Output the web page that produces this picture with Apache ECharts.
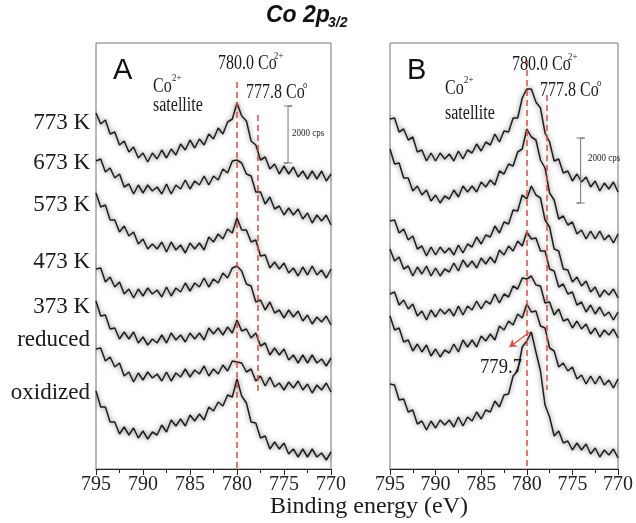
<!DOCTYPE html>
<html><head><meta charset="utf-8">
<script src="https://cdn.jsdelivr.net/npm/echarts@6/dist/echarts.min.js"></script>
<style>html,body{margin:0;padding:0;background:#fff}#c{width:636px;height:523px}</style>
</head><body><div id="c"></div>
<script>
// Binding energy grid (eV)
const energies = [795,794.5,794,793.5,793,792.5,792,791.5,791,790.5,790,789.5,789,788.5,788,787.5,787,786.5,786,785.5,785,784.5,784,783.5,783,782.5,782,781.5,781,780.5,780,779.5,779,778.5,778,777.5,777,776.5,776,775.5,775,774.5,774,773.5,773,772.5,772,771.5,771,770.5,770];
const sampleLabels = ['773 K','673 K','573 K','473 K','373 K','reduced','oxidized'];
const xTicks = [795,790,785,780,775,770];

// Panel A: stacked intensities (a.u., offsets included)
const A_773 = [356,345,349,335,337,324,328,317,322,311,316,307,316,310,319,311,320,314,325,319,329,321,330,324,335,330,341,335,347,350,366,353,348,328,324,309,312,300,305,295,303,295,302,292,298,290,298,290,298,288,295];
const A_673 = [308,310,297,301,291,295,282,285,275,284,276,284,278,282,275,285,275,284,280,289,280,288,284,293,284,293,289,300,296,308,309,306,295,293,277,277,265,272,260,263,254,261,254,260,250,256,246,254,248,254,244];
const A_573 = [276,262,264,249,249,237,243,233,237,225,230,220,225,220,227,217,227,219,224,216,226,220,226,219,232,227,235,230,240,236,251,239,239,227,229,213,214,201,207,200,206,196,201,193,202,194,203,194,199,191,200];
const A_473 = [200,201,187,192,182,187,175,180,171,180,173,181,175,179,172,182,173,181,177,186,178,186,182,191,182,190,186,196,191,201,203,198,185,183,167,169,159,167,156,159,151,159,152,158,148,154,145,152,147,153,144];
const A_373 = [168,153,154,140,141,130,137,130,137,126,132,124,130,126,134,126,136,129,134,127,136,130,136,129,141,135,141,134,142,136,149,138,140,131,136,123,126,114,121,114,120,109,114,106,114,106,114,106,110,103,111];
const A_red = [120,121,108,112,102,106,93,97,87,96,89,97,91,95,88,97,88,96,92,100,92,99,95,103,93,100,95,104,98,108,107,106,97,100,88,93,83,92,82,86,79,87,81,88,79,85,76,84,79,86,77];
const A_oxi = [78,62,62,47,47,35,42,34,41,31,38,30,37,34,44,37,49,43,50,43,54,48,55,49,62,58,67,63,74,72,90,73,66,47,46,31,33,20,27,20,26,15,20,12,20,12,20,12,16,9,17];

// Panel B
const B_773 = [350,351,337,340,329,332,317,319,308,316,308,316,310,315,308,318,310,319,316,325,318,327,324,335,327,338,337,351,351,371,380,380,367,361,336,327,308,310,296,298,288,295,287,292,282,288,278,286,280,287,277];
const B_673 = [320,305,306,291,291,278,283,274,279,268,274,266,273,270,279,272,283,277,283,277,287,282,289,284,298,295,305,303,317,320,340,332,329,309,301,276,269,250,253,244,247,235,239,230,238,230,238,229,234,226,235];
const B_573 = [248,249,236,240,229,233,220,223,213,222,214,222,216,221,214,224,216,225,222,232,225,234,232,243,236,247,245,259,258,274,270,283,274,271,249,242,220,218,200,199,187,192,183,188,177,182,172,179,174,180,171];
const B_473 = [220,208,212,200,203,193,202,195,203,193,201,193,200,197,206,198,209,202,208,201,211,205,212,206,219,214,223,218,228,223,237,230,231,218,218,200,198,182,185,175,177,164,167,157,164,155,162,153,157,149,157];
const B_373 = [175,177,164,169,160,165,153,158,149,159,152,160,155,160,153,163,154,163,159,168,160,168,165,175,166,175,172,183,180,191,190,193,184,183,166,167,154,160,148,150,141,148,140,145,135,141,132,139,134,140,131];
const B_red = [153,139,141,127,129,118,125,117,124,113,120,112,119,116,125,117,129,122,129,122,133,128,135,129,143,139,148,144,155,151,165,157,158,143,141,121,118,102,106,98,102,90,94,85,93,85,93,84,89,81,90];
const B_oxi = [85,84,69,70,57,59,45,48,39,48,41,49,44,49,42,52,43,52,48,57,50,59,57,68,62,74,75,93,98,122,128,137,117,98,64,52,33,38,26,28,19,26,19,25,15,21,12,19,14,20,11];

// reference lines [energy, top, bottom] per panel
const refA = [[780.0, 387, 0], [777.8, 354, 77]];
const refB = [[780.0, 409, 0], [777.8, 374, 79]];
// scale bars (2000 cps): [energy, low, high]
const barA = [774.57, 306, 363];
const barB = [774.1, 266, 331];
// peak arrow in B: from [E, v] to [E, v]
const arrowB = [[779.66, 137], [781.9, 122]];

const serif = '"Liberation Serif","Times New Roman",serif';
const sans = '"Liberation Sans",Arial,sans-serif';
const curveColor = '#1e1e1e';
const red = '#e8473c';

function pairs(arr){ return energies.map((e,i)=>[e, arr[i]]); }
function curve(arr, idx){
  return {type:'line', xAxisIndex:idx, yAxisIndex:idx, data:pairs(arr), symbol:'none',
    lineStyle:{color:curveColor, width:1.5, shadowColor:'rgba(0,0,0,0.6)', shadowBlur:5},
    silent:true, animation:false, z:3};
}
function refSeries(ref, idx){
  return {type:'line', xAxisIndex:idx, yAxisIndex:idx, data:[], symbol:'none', silent:true, animation:false,
    markLine:{symbol:['none','none'], silent:true, label:{show:false}, animation:false,
      lineStyle:{color:red, type:[6,4], width:1.5},
      data: ref.map(r=>[{coord:[r[0], r[1]]},{coord:[r[0], r[2]]}])}};
}
function barSeries(b, idx){
  const cap = 0.45;
  return {type:'line', xAxisIndex:idx, yAxisIndex:idx, symbol:'none', silent:true, animation:false,
    lineStyle:{color:'#777', width:1},
    data:[[b[0]+cap,b[2]],[b[0]-cap,b[2]],[b[0],b[2]],[b[0],b[1]],[b[0]+cap,b[1]],[b[0]-cap,b[1]]]};
}
function xAx(idx){
  return {type:'value', gridIndex:idx, min:770, max:795, interval:5, inverse:true,
    axisLine:{show:true, onZero:false, lineStyle:{color:'#222', width:1.2}},
    axisTick:{show:true, length:6, lineStyle:{color:'#222'}},
    minorTick:{show:true, splitNumber:2, length:4, lineStyle:{color:'#222'}},
    splitLine:{show:false},
    axisLabel:{fontFamily:serif, fontSize:20, color:'#222', margin:6}};
}
function yAx(idx){
  return {type:'value', gridIndex:idx, min:0, max:426, show:false};
}
function txt(x,y,t,size,opt){
  opt = opt||{};
  return {type:'text', x:x, y:y, scaleX:opt.sx||1, silent:true, z:10,
    style:{text:t, font:(opt.w||'normal')+' '+size+'px '+(opt.f||serif), fill:opt.c||'#1a1a1a',
      textAlign:opt.a||'left', textVerticalAlign:'middle'}};
}

const chart = echarts.init(document.getElementById('c'), null, {renderer:'canvas'});
const labelY = [123,163,205,262,307,340,393];
const graphics = [];
sampleLabels.forEach((s,i)=>graphics.push(txt(90,labelY[i],s,23,{a:'right'})));
// title
graphics.push(txt(266,16,'Co 2p',23,{f:sans,w:'italic bold',c:'#111'}));
graphics.push(txt(328,23,'3/2',14,{f:sans,w:'italic bold',c:'#111'}));
// panel A annotations
graphics.push(txt(113,71,'A',29,{f:sans,c:'#111'}));
graphics.push(txt(218,64,'780.0 Co',20,{sx:0.8}));
graphics.push(txt(274,56,'2+',11,{sx:0.8}));
graphics.push(txt(153,87,'Co',20,{sx:0.8}));
graphics.push(txt(172,78,'2+',11,{sx:0.8}));
graphics.push(txt(153,106,'satellite',20,{sx:0.8}));
graphics.push(txt(246,93,'777.8 Co',20,{sx:0.8}));
graphics.push(txt(303,85,'o',11,{sx:0.8}));
graphics.push(txt(292,133,'2000 cps',10,{sx:0.9}));
// panel B annotations
graphics.push(txt(407,71,'B',29,{f:sans,c:'#111'}));
graphics.push(txt(512,65,'780.0 Co',20,{sx:0.8}));
graphics.push(txt(568,57,'2+',11,{sx:0.8}));
graphics.push(txt(445,89,'Co',20,{sx:0.8}));
graphics.push(txt(464,80,'2+',11,{sx:0.8}));
graphics.push(txt(445,114,'satellite',20,{sx:0.8}));
graphics.push(txt(540,91,'777.8 Co',20,{sx:0.8}));
graphics.push(txt(597,83,'o',11,{sx:0.8}));
graphics.push(txt(588,158,'2000 cps',10,{sx:0.9}));
graphics.push(txt(480,367,'779.7',22,{sx:0.85}));
// axis title
graphics.push(txt(369,507,'Binding energy (eV)',24,{a:'center'}));

const option = {
  backgroundColor:'#fff',
  animation:false,
  grid:[
    {left:96, top:43, width:235, height:426, show:true, borderColor:'#777', borderWidth:1, containLabel:false},
    {left:390, top:43, width:233, height:426, show:true, borderColor:'#777', borderWidth:1, containLabel:false}
  ],
  xAxis:[xAx(0), xAx(1)],
  yAxis:[yAx(0), yAx(1)],
  series:[
    curve(A_773,0), curve(A_673,0), curve(A_573,0), curve(A_473,0), curve(A_373,0), curve(A_red,0), curve(A_oxi,0),
    curve(B_773,1), curve(B_673,1), curve(B_573,1), curve(B_473,1), curve(B_373,1), curve(B_red,1), curve(B_oxi,1),
    refSeries(refA,0), refSeries(refB,1), barSeries(barA,0), barSeries(barB,1),
    {type:'line', xAxisIndex:1, yAxisIndex:1, data:[], symbol:'none', silent:true, animation:false,
      markLine:{silent:true, symbol:['none','arrow'], symbolSize:7, label:{show:false}, animation:false,
        lineStyle:{color:red, width:1.2, type:'solid', curveness:0.3},
        data:[[{coord:arrowB[0]},{coord:arrowB[1]}]]}}
  ],
  graphic:graphics
};
chart.setOption(option);
</script></body></html>
